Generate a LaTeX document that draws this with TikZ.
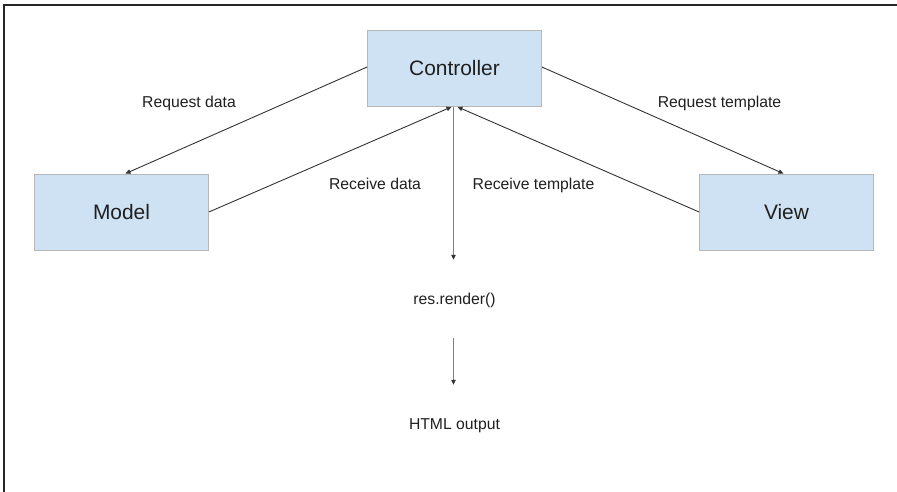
\documentclass[tikz,border=0pt]{standalone}
\usepackage{fontspec}
\setmainfont{Liberation Sans}
\usetikzlibrary{arrows.meta}
\definecolor{boxfill}{HTML}{CFE2F3}
\definecolor{boxline}{HTML}{B7B7B7}
\definecolor{txt}{HTML}{1F1F1F}
\definecolor{lnk}{HTML}{333333}
\definecolor{vln}{HTML}{7F7F7F}
\begin{document}
\begin{tikzpicture}[x=1bp,y=-1bp,
  box/.style={draw=boxline,line width=0.8bp,fill=boxfill,minimum width=174bp,minimum height=76bp,inner sep=0pt,text=txt,font=\fontsize{21}{25}\selectfont},
  lbl/.style={inner sep=0pt,text=txt,font=\fontsize{15.8}{19}\selectfont,text height=12bp,text depth=3bp},
  link/.style={draw=lnk,line width=0.9bp,-{Triangle[length=5bp,width=4.5bp]}},
  vlink/.style={draw=vln,line width=1bp,-{Triangle[length=5bp,width=4.5bp,color=lnk]}}]
\useasboundingbox (0,0) rectangle (897,492);
\draw[line width=1.6bp,color=black!85] (4,492) -- (4,5) -- (897,5);

\node[box] (ctrl) at (454.5,68.5) {Controller};
\node[box] (model) at (121.5,212) {Model};
\node[box] (view) at (786.5,212) {View};

\node[lbl] (rqd) at (189,103) {Request data};
\node[lbl] (rqt) at (719.5,103) {Request template};
\node[lbl] (rcd) at (375,185) {Receive data};
\node[lbl] (rct) at (533.5,185) {Receive template};
\node[lbl] (render) at (454.5,300) {res.render()};
\node[lbl] (html) at (454.5,425) {HTML output};

\draw[link] ([yshift=1.5]ctrl.west) -- ([xshift=4]model.north);
\draw[link] ([yshift=1.5]ctrl.east) -- ([xshift=-3]view.north);
\draw[link] (model.east) -- ([xshift=-3]ctrl.south);
\draw[link] (view.west) -- ([xshift=3]ctrl.south);
\draw[vlink,shorten >=32.5bp] ([xshift=-1]ctrl.south) -- ([xshift=-1]render.north);
\draw[vlink,shorten <=30.5bp,shorten >=32.5bp] ([xshift=-1]render.south) -- ([xshift=-1]html.north);
\end{tikzpicture}
\end{document}
